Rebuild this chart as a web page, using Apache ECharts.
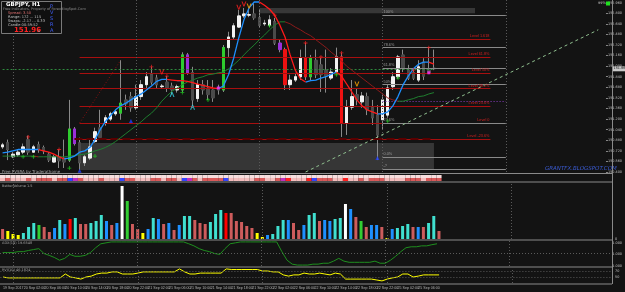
<!DOCTYPE html>
<html><head><meta charset="utf-8">
<script src="https://cdn.jsdelivr.net/npm/echarts@6/dist/echarts.min.js"></script>
<style>html,body{margin:0;padding:0;background:#131313;}#c{width:625px;height:292px;}</style>
</head><body><div id="c"></div>
<script>
// ---------- data ----------
const tickLabels = ['19 Sep 2017','20 Sep 02:00','20 Sep 06:00','20 Sep 10:00','20 Sep 14:00','20 Sep 18:00','20 Sep 22:00','21 Sep 02:00','21 Sep 06:00','21 Sep 10:00','21 Sep 14:00','21 Sep 18:00','21 Sep 22:00','22 Sep 02:00','22 Sep 06:00','22 Sep 10:00','22 Sep 14:00','22 Sep 18:00','22 Sep 22:00','25 Sep 02:00','25 Sep 06:00','25 Sep 10:00'];
const opens = [150.78,150.84,150.63,150.66,150.70,150.89,150.70,150.81,150.77,150.67,150.55,150.63,150.61,150.58,151.05,150.84,150.54,150.61,150.86,151.07,151.14,151.20,151.28,151.29,151.49,151.54,151.37,151.54,151.72,151.87,151.82,151.69,151.76,151.70,151.64,151.64,152.17,151.90,151.51,151.72,151.67,151.64,151.67,151.64,152.28,152.44,152.59,152.76,152.77,152.79,152.73,152.64,152.62,152.67,152.35,152.25,151.72,151.79,151.84,152.12,151.84,152.09,152.02,151.94,151.82,151.91,152.14,151.14,151.38,151.57,151.46,151.54,151.37,151.26,151.19,151.26,151.69,151.84,152.17,151.94,151.90,151.79,152.06,151.94,151.97];
const closes = [150.81,150.74,150.67,150.70,150.78,150.70,150.78,150.74,150.72,150.58,150.63,150.57,150.55,151.05,150.83,150.54,150.63,150.78,151.01,150.92,151.22,151.28,151.31,151.44,151.43,151.37,151.54,151.72,151.84,151.76,151.72,151.70,151.67,151.64,151.69,152.17,151.90,151.49,151.72,151.64,151.57,151.52,151.64,152.28,152.44,152.61,152.76,152.79,152.78,152.73,152.62,152.65,152.70,152.35,152.25,151.72,151.79,151.84,152.12,151.84,152.12,151.87,151.87,151.85,151.91,152.14,151.14,151.38,151.54,151.49,151.55,151.34,151.22,150.96,151.49,151.67,151.84,152.14,151.97,151.82,151.82,151.99,151.85,151.90,151.96];
const lows = [150.75,150.58,150.61,150.63,150.67,150.66,150.69,150.69,150.67,150.55,150.54,150.46,150.46,150.55,150.80,150.43,150.49,150.58,150.84,150.89,151.10,151.17,151.25,151.19,151.34,151.31,151.34,151.49,151.67,151.72,151.67,151.66,151.61,151.57,151.60,151.61,151.87,151.37,151.46,151.57,151.49,151.46,151.57,151.61,152.14,152.40,152.58,152.73,152.74,152.70,152.59,152.61,152.59,152.32,152.21,151.64,151.64,151.76,151.79,151.79,151.79,151.82,151.61,151.60,151.79,151.88,150.93,150.96,151.34,151.41,151.37,151.26,151.11,150.58,151.04,151.22,151.64,151.81,151.91,151.79,151.79,151.76,151.79,151.88,151.94];
const highs = [150.84,150.89,150.70,150.74,150.83,150.95,150.81,150.86,150.80,150.70,150.66,150.74,150.89,151.49,151.08,150.92,150.66,150.89,151.07,151.34,151.26,151.31,151.34,152.09,151.57,151.61,151.72,151.79,151.91,151.99,151.87,151.73,151.85,151.75,151.72,152.21,152.20,151.99,151.79,151.79,151.79,151.79,151.72,152.32,152.52,152.65,152.85,152.88,152.85,152.95,152.85,152.70,152.77,152.73,152.40,152.28,151.87,151.90,152.25,152.35,152.17,152.25,152.14,152.25,151.97,152.28,152.20,151.49,151.79,151.67,151.61,151.60,151.49,151.41,151.57,151.72,151.91,152.17,152.25,152.02,151.94,152.09,152.12,152.29,152.25];
const candleTypes = ('WDWWWDWDDD'+'WDDGPDWWWD'+'WWWGDDWWWD'+'DWDDWGPDWD'+'DDDGWWWWWD'+'DWWDPRWWWR'+'GDDDWWRWWD'+'WDDDWWWWDD'+'DWDDD').split('');
const fastMA = [150.69,150.70,150.72,150.74,150.74,150.74,150.74,150.74,150.72,150.70,150.67,150.63,150.60,150.61,150.64,150.70,150.72,150.77,150.89,151.04,151.16,151.25,151.34,151.40,151.44,151.49,151.54,151.58,151.64,151.70,151.77,151.80,151.80,151.79,151.78,151.78,151.77,151.75,151.73,151.71,151.69,151.67,151.66,151.70,151.87,152.12,152.43,152.70,152.88,152.97,152.97,152.92,152.86,152.77,152.62,152.44,152.17,151.94,151.81,151.76,151.78,151.79,151.82,151.84,151.88,151.91,151.85,151.73,151.61,151.49,151.40,151.34,151.31,151.28,151.28,151.31,151.40,151.54,151.72,151.85,151.96,152.03,152.06,152.06,152.03];
const slowMA = [150.64,150.64,150.64,150.64,150.64,150.64,150.64,150.63,150.63,150.63,150.63,150.63,150.63,150.64,150.65,150.66,150.67,150.69,150.72,150.74,150.77,150.81,150.86,150.92,150.98,151.04,151.10,151.16,151.23,151.29,151.37,151.47,151.55,151.62,151.67,151.72,151.76,151.79,151.82,151.84,151.87,151.88,151.90,151.91,151.96,152.02,152.09,152.17,152.25,152.32,152.40,152.47,152.55,152.62,152.67,152.67,152.64,152.59,152.55,152.50,152.46,152.40,152.34,152.28,152.21,152.15,152.08,152.00,151.94,151.88,151.82,151.76,151.70,151.64,151.58,151.52,151.49,151.47,151.47,151.49,151.51,151.54,151.55,151.58,151.60];
const volumes = [1000,800,500,400,600,1200,1600,1400,1200,700,1100,1900,1500,2000,2100,1500,1500,1600,1800,2400,1800,1400,1600,5300,3800,1500,1000,600,1000,2100,2000,1500,1600,900,1400,2300,2300,1900,1600,1500,1700,2500,2900,2600,2600,1800,1700,1300,1100,600,200,400,500,1300,1900,1900,1600,900,1400,2400,2600,1800,1900,1800,2000,2100,3500,3000,2200,1800,1200,1400,1400,1200,100,1000,1100,1300,1500,1200,1200,1200,1600,2300,800];
const volumeTypes = ('SYYYCCCGSS'+'BCBRCSSCCC'+'BSBWGSSYBC'+'BSBSBCCSSS'+'CCCRSSSSSY'+'YBCCCBSSBC'+'CSBBCCWBSG'+'SBBSYBCCCS'+'BSCCS').split('');
const adxLine = [54,54,54,58,58,63,67,71,50,42,33,21,29,46,38,38,42,54,75,92,96,100,100,100,100,100,100,100,100,100,100,100,100,100,100,100,92,83,71,63,58,50,46,71,92,96,100,100,100,100,100,100,100,100,58,21,4,0,0,0,4,4,8,8,17,29,17,12,12,12,12,12,17,8,8,21,38,58,75,79,79,83,83,88,92];
const rviLine = [50,47,47,47,47,47,47,47,47,47,47,47,60,50,47,43,50,53,60,63,63,67,67,60,60,60,63,67,67,67,67,67,67,67,77,67,60,60,63,63,63,63,63,77,75,75,75,75,75,75,70,70,67,67,57,53,57,57,63,60,60,63,60,57,63,60,43,43,43,43,43,43,40,37,43,47,50,60,60,50,53,57,57,57,57];
const levelPrices = [152.41,152.14,151.90,151.66,151.40,151.14,150.90];
const levelNames = ['Level 1.618','Level 61.8%','Level 50%','Level 38.2%','Level 23.6%','Level 0','Level -23.6%'];
const fibPrices = [152.77,152.28,151.97,151.72,151.14,150.63,150.44];
const fibNames = ['100%','78.6%','61.8%','50%','23.6%','0.0%','-?'];
const daySeparators = [2,26,50,74,98];
const currentPrice = 151.96;
// signal markers: bar index + price
const redCrossIdx = [5,11,29,32,53,59,62,66,80,83];
const redCrossPrice = [150.93,150.74,151.99,151.85,152.77,152.35,152.14,152.20,151.94,152.28];
const greenCrossIdx = [4,6,13,18,35,40,52,65,75,77];
const greenCrossPrice = [150.63,150.63,150.46,150.64,151.60,151.49,152.61,151.87,151.17,151.82];
const cyanArrowIdx = [33,37];
const cyanArrowPrice = [151.57,151.38];
const blueTriIdx = [15,25,73];
const blueTriPrice = [150.42,151.17,150.61];
const redVIdx = [31,46,47];
const redVPrice = [151.91,152.89,152.94];
const orangeVIdx = [48,69];
const orangeVPrice = [152.91,151.73];
const magentaIdx = [42,83];
const magentaPrice = [151.67,151.90];

// ---------- build ----------
const N = 118;
const cats = Array.from({length:N},(_,i)=>String(i));
const typeColor = {W:'#f2f2f2',D:'#4a4a4a',G:'#2ecc2e',P:'#9a2fd8',R:'#ee1111'};
const volColor = {S:'#cd5c5c',Y:'#ffff00',C:'#40e0d0',G:'#32cd32',B:'#1e90ff',R:'#ff0000',W:'#ffffff'};
const stripColor = {W:'#f3bcbc',D:'#d95a5a',G:'#3344ff',P:'#c030c0',R:'#ff2020'};
const wickData = opens.map((o,i)=>[o,closes[i],lows[i],highs[i]]);
const bodyData = opens.map((o,i)=>{const c=typeColor[candleTypes[i]];return {value:[o,closes[i],Math.min(o,closes[i]),Math.max(o,closes[i])],itemStyle:{color:c,color0:c,borderColor:c,borderColor0:c}};});
function splitDir(arr){const up=[],dn=[];for(let i=0;i<arr.length;i++){const r1=i>0&&arr[i]>=arr[i-1],r2=i<arr.length-1&&arr[i+1]>=arr[i];const f1=i>0&&arr[i]<arr[i-1],f2=i<arr.length-1&&arr[i+1]<arr[i];up.push(r1||r2?arr[i]:null);dn.push(f1||f2?arr[i]:null);}return [up,dn];}
const [fastUp,fastDn]=splitDir(fastMA);
const [slowUp,slowDn]=splitDir(slowMA);
const pts=(ix,pr)=>ix.map((x,k)=>[x,pr[k]]);
const PLUS='path://M2,0H3V2H5V3H3V5H2V3H0V2H2Z';
const VSYM='path://M0,0H1.2L2.5,3.6L3.8,0H5L3,5H2Z';
const ASYM='path://M0,5L2,0H3L5,5H3.8L2.5,1.4L1.2,5Z';
const marker=(data,sym,size,color)=>({type:'scatter',xAxisIndex:0,yAxisIndex:0,data:data,symbol:sym,symbolSize:size,itemStyle:{color:color},z:8,animation:false,silent:true});

const grids=[
 {left:-1,right:12,top:0,height:172},
 {left:-1,right:12,top:175,height:6},
 {left:-1,right:12,top:183,height:56},
 {left:-1,right:12,top:241,height:25},
 {left:-1,right:12,top:268,height:15}
];
const FF='DejaVu Sans';
const LF='Liberation Sans';
const xAxes=grids.map((g,k)=>({type:'category',gridIndex:k,data:cats,boundaryGap:true,axisLine:{show:false},axisTick:{show:false},splitLine:{show:false},
  axisLabel:k===4?{show:true,fontSize:3.6,color:'#b4b4b4',align:'left',margin:3,fontFamily:LF,hideOverlap:false,
    interval:(idx)=>idx%4===0&&idx<=84, formatter:(v,idx)=>tickLabels[idx/4]||''}:{show:false}}));
const lab={fontSize:3.4,color:'#c0c0c0',fontFamily:FF,margin:2};
const yAxes=[
 {type:'value',gridIndex:0,position:'right',min:150.40,max:153.0,interval:0.16,splitLine:{show:false},axisLine:{show:false},axisTick:{show:true,length:2,lineStyle:{color:'#888'}},axisLabel:Object.assign({formatter:v=>v.toFixed(3),showMaxLabel:false},lab)},
 {type:'value',gridIndex:1,min:0,max:2,show:false},
 {type:'value',gridIndex:2,position:'right',min:0,max:5600,interval:5600,splitLine:{show:false},axisLine:{show:false},axisTick:{show:false},axisLabel:Object.assign({formatter:v=>v===0?'0':'',showMaxLabel:false},lab)},
 {type:'value',gridIndex:3,position:'right',min:-4,max:104,interval:50,splitLine:{show:false},axisLine:{show:false},axisTick:{show:false},axisLabel:Object.assign({formatter:v=>v===0?'0.000':(v===50?'0.50':'1.000')},lab)},
 {type:'value',gridIndex:4,position:'right',min:30,max:80,interval:20,splitLine:{show:false},axisLine:{show:false},axisTick:{show:false},axisLabel:Object.assign({showMinLabel:false,showMaxLabel:false},lab)}
];
const redLevels = levelPrices.map((p,k)=>[{coord:[15,p],lineStyle:{color:'#a80f0f',width:1,type:'solid'},label:{show:true,position:'insideEndTop',formatter:levelNames[k],color:'#d02020',fontSize:3.8,distance:1}},{coord:[95,p]}]);
const fibLines = fibPrices.map((p,k)=>[{coord:[74,p],lineStyle:{color:'#8a8a8a',width:1,type:'solid'},label:{show:true,position:'insideStartTop',formatter:fibNames[k],color:'#9a9a9a',fontSize:3.8,distance:1}},{coord:[98,p]}]);
const sepLines = daySeparators.map(d=>({xAxis:d,lineStyle:{color:'#5a5a5a',type:[1,2],width:1},label:{show:false}}));

const series=[
 {type:'candlestick',xAxisIndex:0,yAxisIndex:0,barWidth:2,data:wickData,itemStyle:{color:'#8a8a8a',color0:'#8a8a8a',borderColor:'#8a8a8a',borderColor0:'#8a8a8a'},z:3,
  markArea:{silent:true,data:[
    [{coord:[15,150.84],itemStyle:{color:'rgba(90,90,90,0.5)'}},{coord:[84,150.43]}],
    [{coord:[50,152.88],itemStyle:{color:'rgba(80,80,80,0.6)'}},{coord:[92,152.80]}]
  ]},
  markLine:{silent:true,symbol:'none',animation:false,data:[...redLevels,...fibLines,...sepLines,
    [{coord:[0,currentPrice],lineStyle:{color:'#2e8b3e',type:[2,2],width:1},label:{show:false}},{coord:[84,currentPrice]}],
    [{coord:[74,151.47],lineStyle:{color:'#8a3cc0',type:[1,2],width:1},label:{show:false}},{coord:[98,151.47]}],
    [{coord:[15,151.14],lineStyle:{color:'#8b1010',type:[1,2],width:1},label:{show:false}},{coord:[23,152.09]}],
    [{coord:[59,150.40],lineStyle:{color:'#8fbf8f',type:[3,3],width:1},label:{show:false}},{coord:[116,152.55]}],
    [{coord:[14,150.90],lineStyle:{color:'#5a0000',width:2},label:{show:false}},{coord:[84,150.90]}]
  ]}},
 {type:'candlestick',xAxisIndex:0,yAxisIndex:0,barWidth:3,data:bodyData,z:4},
 {type:'line',xAxisIndex:0,yAxisIndex:0,data:slowUp,showSymbol:false,lineStyle:{color:'#1f7f2f',width:1},z:5,animation:false},
 {type:'line',xAxisIndex:0,yAxisIndex:0,data:slowDn,showSymbol:false,lineStyle:{color:'#8b1a1a',width:1},z:5,animation:false},
 {type:'line',xAxisIndex:0,yAxisIndex:0,data:fastUp,showSymbol:false,lineStyle:{color:'#1e90ff',width:1.3},z:6,animation:false},
 {type:'line',xAxisIndex:0,yAxisIndex:0,data:fastDn,showSymbol:false,lineStyle:{color:'#ff1a1a',width:1.3},z:6,animation:false},
 marker(pts(redCrossIdx,redCrossPrice),PLUS,4,'#ff2020'),
 marker(pts(greenCrossIdx,greenCrossPrice),PLUS,4,'#20e020'),
 marker(pts(cyanArrowIdx,cyanArrowPrice),ASYM,[5,5],'#30d0e0'),
 marker(pts(blueTriIdx,blueTriPrice),'triangle',4,'#2040ff'),
 marker(pts(redVIdx,redVPrice),VSYM,[5,5],'#ff2020'),
 marker(pts(orangeVIdx,orangeVPrice),VSYM,[5,5],'#ffa500'),
 marker(pts(magentaIdx,magentaPrice),'rect',3,'#ff30ff'),
 {type:'bar',xAxisIndex:1,yAxisIndex:1,stack:'s',barCategoryGap:0,data:candleTypes.map(t=>({value:1,itemStyle:{color:stripColor[t]}})),animation:false},
 {type:'bar',xAxisIndex:1,yAxisIndex:1,stack:'s',barCategoryGap:0,data:candleTypes.map(()=>({value:1,itemStyle:{color:'#f6dede'}})),animation:false},
 {type:'bar',xAxisIndex:2,yAxisIndex:2,barWidth:3,data:volumes.map((v,i)=>({value:v,itemStyle:{color:volColor[volumeTypes[i]]}})),animation:false,
  markLine:{silent:true,symbol:'none',data:sepLines}},
 {type:'line',xAxisIndex:3,yAxisIndex:3,data:adxLine,showSymbol:false,lineStyle:{color:'#1f8f1f',width:1},animation:false,
  markLine:{silent:true,symbol:'none',data:[...sepLines,{yAxis:50,lineStyle:{color:'#5a5a5a',type:[1,2]},label:{show:false}}]}},
 {type:'line',xAxisIndex:4,yAxisIndex:4,data:rviLine,showSymbol:false,lineStyle:{color:'#ffff00',width:1},animation:false,
  markLine:{silent:true,symbol:'none',data:[...sepLines,{yAxis:70,lineStyle:{color:'#5a5a5a',type:[1,2]},label:{show:false}},{yAxis:50,lineStyle:{color:'#5a5a5a',type:[1,2]},label:{show:false}}]}}
];

const chart=echarts.init(document.getElementById('c'));
const T=(x,y,text,fill,size,extra)=>({type:'text',x:x,y:y,z:20,style:Object.assign({text:text,fill:fill,font:(size||5)+'px '+FF},extra||{})});
chart.setOption({backgroundColor:'#131313',animation:false,grid:grids,xAxis:xAxes,yAxis:yAxes,series:series});
const py=chart.convertToPixel({yAxisIndex:0},currentPrice);
chart.setOption({graphic:[
 {type:'rect',z:10,shape:{x:1.5,y:1.5,width:60,height:32},style:{fill:'#101010',stroke:'#7a7a7a',lineWidth:1}},
 T(6,1.5,'GBPJPY, H1','#ffffff',5.5,{font:'bold 5.5px '+FF}),
 T(3,7.5,'Free Indicators, Property of ForexBlogSpot.Com','#8a8a8a',3.5),
 T(8,11,'Spread: 3.50','#e07070',3.6),
 T(8,15,'Range: 172 ... 115','#c0c0c0',3.6),
 T(8,19,'Swaps: -2.17 ... 0.33','#c0c0c0',3.6),
 T(8,23,'Candle 00:59:52','#c0c0c0',3.6),
 T(14,27,'151.96','#ff2020',7,{font:'bold 7px '+FF}),
 T(38,29.5,'s','#c0c0c0',3.6),
 T(50,4,'P','#4060ff',5),T(50,10,'V','#4060ff',5),T(50,16,'S','#4060ff',5),T(50,22,'R','#4060ff',5),T(50,28,'A','#4060ff',5),
 T(2,170,'Free PVSRA by Traderathome','#a0a0a0',4),
 T(545,166,'GRANTFX.BLOGSPOT.COM','#3a5ad0',5.5,{font:'italic 5.5px '+FF}),
 T(2,184,'BetterVolume 1.5','#a0a0a0',3.5),
 T(2,241.5,'ADX(14) 19.6548','#a0a0a0',3.5),
 T(2,268.5,'RVI(10) 46.1824','#a0a0a0',3.5),
 T(598,1.5,'99%','#c0c0c0',3.5),
 {type:'rect',z:20,shape:{x:606,y:1.5,width:4,height:4},style:{fill:'#20e020'}},
 {type:'rect',z:20,shape:{x:613,y:py-2.5,width:12,height:5},style:{fill:'#c8c8c8'}},
 T(613.5,py-1.8,'151.960','#101010',3.4),
 {type:'line',z:20,shape:{x1:612.5,y1:0,x2:612.5,y2:284},style:{stroke:'#8a8a8a',lineWidth:1}},
 {type:'line',z:20,shape:{x1:0,y1:173.5,x2:612,y2:173.5},style:{stroke:'#8a8a8a',lineWidth:1}},
 {type:'line',z:20,shape:{x1:0,y1:182,x2:612,y2:182},style:{stroke:'#8a8a8a',lineWidth:1}},
 {type:'line',z:20,shape:{x1:0,y1:240,x2:612,y2:240},style:{stroke:'#8a8a8a',lineWidth:1}},
 {type:'line',z:20,shape:{x1:0,y1:267,x2:612,y2:267},style:{stroke:'#8a8a8a',lineWidth:1}},
 {type:'line',z:20,shape:{x1:0,y1:284,x2:612,y2:284},style:{stroke:'#8a8a8a',lineWidth:1}}
]});
</script></body></html>
